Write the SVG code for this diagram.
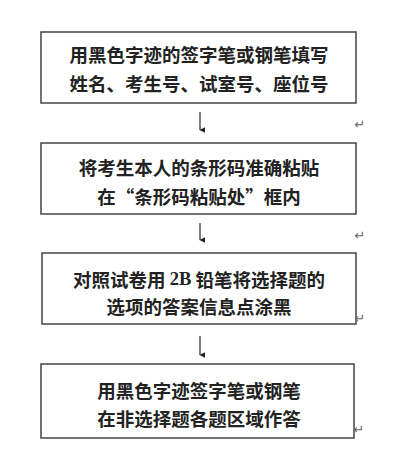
<svg xmlns="http://www.w3.org/2000/svg" width="409" height="450" viewBox="0 0 409 450">
<style>
.box{fill:#fff;stroke:#444;stroke-width:1.5}
.t{font-family:"Noto Sans CJK SC","Liberation Serif",sans-serif;font-size:18.5px;font-weight:bold;fill:#222;text-anchor:middle;dominant-baseline:central}
.lat{font-family:"Liberation Serif",serif}
.r{font-family:"DejaVu Sans","Noto Sans CJK SC",sans-serif;font-size:13px;fill:#666;text-anchor:middle;dominant-baseline:central}
.c{stroke:#555;stroke-width:1.5;fill:none}
</style>
<defs>
<marker id="ah" viewBox="0 0 10 10" refX="5" refY="9" markerWidth="6" markerHeight="6" orient="auto-start-reverse" markerUnits="userSpaceOnUse">
<path d="M0,0 L10,0 L5,10 Z" fill="#222"/>
</marker>
</defs>
<rect width="409" height="450" fill="#fff"/>
<g id="connectors">
<line class="c" x1="200" y1="112" x2="200" y2="130" marker-end="url(#ah)"/>
<line class="c" x1="200" y1="223" x2="200" y2="240" marker-end="url(#ah)"/>
<line class="c" x1="200" y1="336" x2="200" y2="355" marker-end="url(#ah)"/>
</g>
<g id="node1">
<rect class="box" x="41" y="32" width="315" height="71"/>
<text class="t" x="199" y="54">用黑色字迹的签字笔或钢笔填写</text>
<text class="t" x="199" y="83">姓名、考生号、试室号、座位号</text>
</g>
<g id="node2">
<rect class="box" x="41" y="143" width="315" height="71"/>
<text class="t" x="199" y="167">将考生本人的条形码准确粘贴</text>
<text class="t" x="199" y="196">在“条形码粘贴处”框内</text>
</g>
<g id="node3">
<rect class="box" x="42" y="253" width="314" height="71"/>
<text class="t" x="199" y="279">对照试卷用 <tspan class="lat">2B</tspan> 铅笔将选择题的</text>
<text class="t" x="199" y="306">选项的答案信息点涂黑</text>
</g>
<g id="node4">
<rect class="box" x="41" y="364" width="313" height="74"/>
<text class="t" x="199" y="390">用黑色字迹签字笔或钢笔</text>
<text class="t" x="199" y="418">在非选择题各题区域作答</text>
</g>
<g id="marks">
<text class="r" x="360" y="124">↵</text>
<text class="r" x="360" y="235">↵</text>
<text class="r" x="360" y="318">↵</text>
<text class="r" x="359" y="429">↵</text>
</g>
</svg>
